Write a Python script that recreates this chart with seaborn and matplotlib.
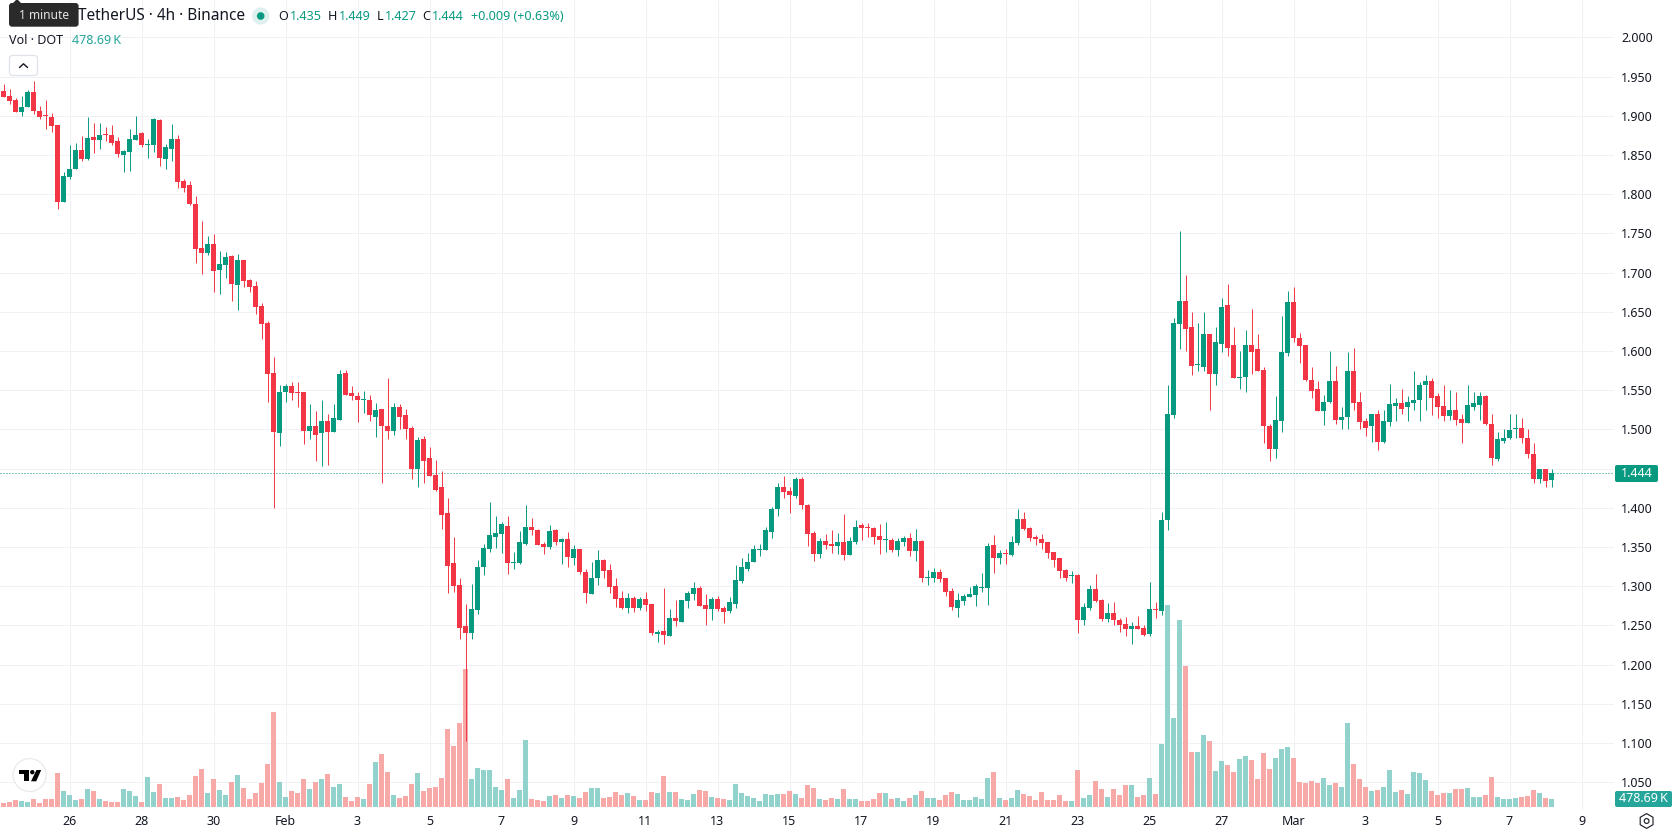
import numpy as np
import pandas as pd
import seaborn as sns
import matplotlib
matplotlib.use("Agg")
import matplotlib.pyplot as plt
from matplotlib.collections import PolyCollection
from matplotlib.patches import Circle, FancyBboxPatch, Polygon, RegularPolygon

# DOT/USDT 4h candles
opens = [
 1.931,1.925,1.920,1.905,1.911,1.930,1.906,1.901,1.898,1.888,
 1.790,1.822,1.832,1.856,1.845,1.873,1.869,1.876,1.875,1.868,
 1.850,1.854,1.869,1.878,1.863,1.862,1.894,1.845,1.857,1.870,
 1.817,1.811,1.788,1.731,1.725,1.736,1.703,1.709,1.721,1.684,
 1.716,1.690,1.683,1.657,1.636,1.572,1.495,1.547,1.555,1.547,
 1.547,1.498,1.504,1.495,1.510,1.496,1.512,1.572,1.546,1.543,
 1.537,1.538,1.516,1.526,1.504,1.498,1.528,1.518,1.502,1.450,
 1.487,1.463,1.442,1.426,1.393,1.329,1.301,1.249,1.240,1.270,
 1.324,1.347,1.363,1.366,1.377,1.330,1.329,1.354,1.376,1.372,
 1.354,1.350,1.371,1.356,1.360,1.336,1.347,1.318,1.290,1.310,
 1.333,1.320,1.300,1.285,1.272,1.285,1.272,1.283,1.277,1.239,
 1.243,1.236,1.259,1.254,1.281,1.290,1.297,1.276,1.271,1.283,
 1.272,1.268,1.277,1.306,1.322,1.331,1.346,1.346,1.369,1.398,
 1.427,1.421,1.415,1.436,1.403,1.368,1.341,1.357,1.354,1.351,
 1.356,1.340,1.356,1.378,1.375,1.374,1.364,1.359,1.359,1.346,
 1.356,1.361,1.345,1.357,1.310,1.310,1.318,1.310,1.294,1.272,
 1.281,1.286,1.289,1.298,1.297,1.352,1.336,1.342,1.340,1.355,
 1.385,1.374,1.362,1.360,1.356,1.343,1.336,1.320,1.313,1.314,
 1.257,1.272,1.296,1.282,1.258,1.266,1.257,1.252,1.245,1.249,
 1.246,1.239,1.271,1.268,1.384,1.518,1.634,1.664,1.630,1.582,
 1.580,1.621,1.570,1.609,1.658,1.607,1.566,1.567,1.607,1.602,
 1.576,1.504,1.475,1.510,1.597,1.663,1.617,1.607,1.563,1.552,
 1.523,1.535,1.561,1.512,1.516,1.575,1.535,1.510,1.504,1.519,
 1.484,1.509,1.530,1.534,1.528,1.534,1.537,1.556,1.561,1.542,
 1.530,1.517,1.524,1.513,1.508,1.529,1.531,1.543,1.507,1.462,
 1.485,1.489,1.500,1.502,1.489,1.469,1.437,1.450,1.435,
]
closes = [
 1.924,1.919,1.905,1.911,1.930,1.906,1.898,1.900,1.887,1.790,
 1.823,1.832,1.856,1.845,1.871,1.869,1.875,1.875,1.865,1.851,
 1.855,1.870,1.876,1.862,1.864,1.896,1.846,1.860,1.870,1.815,
 1.808,1.788,1.730,1.725,1.736,1.702,1.711,1.720,1.685,1.716,
 1.689,1.681,1.656,1.634,1.570,1.497,1.547,1.555,1.546,1.546,
 1.498,1.504,1.493,1.510,1.496,1.514,1.571,1.544,1.542,1.538,
 1.538,1.518,1.525,1.504,1.498,1.528,1.516,1.500,1.450,1.486,
 1.460,1.441,1.423,1.391,1.326,1.300,1.247,1.240,1.271,1.325,
 1.348,1.365,1.368,1.379,1.330,1.331,1.356,1.376,1.371,1.352,
 1.350,1.370,1.356,1.360,1.337,1.347,1.318,1.291,1.310,1.333,
 1.319,1.299,1.283,1.272,1.285,1.272,1.283,1.276,1.240,1.241,
 1.238,1.259,1.255,1.282,1.291,1.297,1.274,1.271,1.283,1.271,
 1.267,1.280,1.308,1.324,1.331,1.347,1.347,1.371,1.398,1.426,
 1.420,1.416,1.436,1.403,1.366,1.341,1.357,1.352,1.351,1.356,
 1.340,1.357,1.376,1.374,1.374,1.362,1.359,1.360,1.346,1.357,
 1.361,1.345,1.357,1.310,1.311,1.318,1.309,1.292,1.273,1.282,
 1.287,1.290,1.300,1.299,1.351,1.336,1.342,1.341,1.356,1.385,
 1.373,1.361,1.360,1.355,1.342,1.333,1.319,1.310,1.314,1.257,
 1.273,1.296,1.281,1.258,1.266,1.257,1.250,1.245,1.249,1.245,
 1.237,1.271,1.270,1.384,1.519,1.635,1.664,1.628,1.581,1.583,
 1.621,1.571,1.611,1.656,1.604,1.566,1.567,1.607,1.599,1.575,
 1.504,1.475,1.512,1.599,1.663,1.616,1.606,1.563,1.549,1.523,
 1.535,1.561,1.512,1.516,1.575,1.533,1.509,1.502,1.519,1.484,
 1.510,1.532,1.534,1.526,1.535,1.538,1.557,1.561,1.540,1.529,
 1.517,1.524,1.512,1.508,1.531,1.533,1.543,1.507,1.464,1.487,
 1.489,1.499,1.502,1.489,1.468,1.437,1.450,1.434,1.444,
]
highs = [
 1.941,1.934,1.923,1.925,1.933,1.944,1.912,1.920,1.903,1.888,
 1.828,1.862,1.865,1.874,1.898,1.891,1.891,1.885,1.888,1.873,
 1.856,1.883,1.899,1.879,1.870,1.897,1.896,1.864,1.889,1.875,
 1.819,1.817,1.797,1.766,1.746,1.749,1.727,1.726,1.722,1.723,
 1.716,1.692,1.689,1.661,1.638,1.592,1.557,1.558,1.560,1.560,
 1.547,1.532,1.523,1.537,1.520,1.532,1.576,1.576,1.555,1.547,
 1.549,1.544,1.533,1.526,1.566,1.534,1.532,1.526,1.504,1.490,
 1.491,1.478,1.461,1.447,1.412,1.362,1.310,1.277,1.303,1.333,
 1.354,1.407,1.389,1.382,1.390,1.343,1.370,1.403,1.387,1.373,
 1.356,1.378,1.373,1.361,1.369,1.352,1.347,1.322,1.331,1.346,
 1.334,1.328,1.310,1.294,1.291,1.287,1.286,1.292,1.277,1.244,
 1.297,1.271,1.282,1.282,1.294,1.305,1.300,1.290,1.286,1.288,
 1.274,1.286,1.327,1.336,1.342,1.352,1.354,1.375,1.401,1.431,
 1.440,1.426,1.439,1.439,1.405,1.370,1.361,1.366,1.371,1.368,
 1.392,1.362,1.384,1.380,1.380,1.375,1.379,1.382,1.361,1.361,
 1.364,1.368,1.373,1.359,1.320,1.323,1.322,1.310,1.297,1.291,
 1.290,1.299,1.303,1.317,1.355,1.365,1.346,1.347,1.364,1.398,
 1.394,1.375,1.365,1.366,1.356,1.343,1.336,1.322,1.319,1.315,
 1.278,1.301,1.315,1.283,1.278,1.280,1.259,1.260,1.254,1.262,
 1.250,1.305,1.280,1.394,1.556,1.642,1.753,1.697,1.649,1.635,
 1.649,1.622,1.630,1.667,1.685,1.630,1.600,1.627,1.653,1.621,
 1.579,1.507,1.542,1.644,1.676,1.682,1.623,1.607,1.579,1.561,
 1.544,1.600,1.581,1.528,1.598,1.604,1.547,1.515,1.519,1.524,
 1.524,1.558,1.540,1.552,1.542,1.575,1.560,1.569,1.565,1.546,
 1.556,1.550,1.547,1.519,1.557,1.548,1.548,1.544,1.520,1.496,
 1.501,1.519,1.519,1.515,1.501,1.482,1.450,1.450,1.449,
]
lows = [
 1.924,1.915,1.905,1.899,1.911,1.902,1.896,1.883,1.879,1.781,
 1.790,1.819,1.832,1.842,1.843,1.852,1.857,1.868,1.862,1.847,
 1.828,1.829,1.869,1.860,1.846,1.854,1.836,1.832,1.842,1.808,
 1.803,1.786,1.712,1.698,1.722,1.675,1.672,1.693,1.664,1.652,
 1.681,1.675,1.647,1.615,1.535,1.400,1.479,1.535,1.537,1.529,
 1.481,1.487,1.459,1.453,1.454,1.496,1.512,1.544,1.537,1.509,
 1.521,1.510,1.490,1.431,1.488,1.493,1.501,1.488,1.436,1.426,
 1.432,1.440,1.421,1.373,1.291,1.292,1.232,1.102,1.232,1.264,
 1.314,1.343,1.348,1.342,1.316,1.322,1.328,1.352,1.365,1.352,
 1.341,1.347,1.352,1.328,1.325,1.327,1.315,1.278,1.290,1.301,
 1.310,1.291,1.273,1.271,1.266,1.267,1.269,1.268,1.238,1.229,
 1.226,1.236,1.249,1.254,1.272,1.282,1.274,1.250,1.257,1.268,
 1.253,1.266,1.272,1.304,1.319,1.331,1.339,1.346,1.361,1.389,
 1.412,1.393,1.413,1.398,1.351,1.332,1.336,1.347,1.342,1.341,
 1.333,1.340,1.354,1.359,1.362,1.354,1.341,1.343,1.343,1.338,
 1.351,1.338,1.332,1.305,1.301,1.305,1.305,1.288,1.269,1.260,
 1.276,1.286,1.274,1.292,1.276,1.317,1.328,1.328,1.338,1.352,
 1.371,1.357,1.352,1.347,1.336,1.324,1.310,1.306,1.304,1.240,
 1.250,1.269,1.280,1.255,1.254,1.250,1.242,1.236,1.226,1.245,
 1.236,1.236,1.259,1.263,1.371,1.515,1.602,1.600,1.569,1.575,
 1.574,1.524,1.556,1.599,1.593,1.565,1.551,1.548,1.570,1.574,
 1.482,1.459,1.464,1.497,1.593,1.611,1.584,1.561,1.540,1.523,
 1.505,1.533,1.507,1.500,1.501,1.524,1.501,1.491,1.484,1.474,
 1.483,1.504,1.511,1.520,1.510,1.525,1.510,1.524,1.518,1.514,
 1.510,1.512,1.506,1.483,1.508,1.524,1.512,1.505,1.454,1.460,
 1.482,1.488,1.489,1.483,1.464,1.432,1.432,1.427,1.427,
]
# traded volume per candle, thousands of DOT
volumes = [
 240,300,420,360,300,480,240,480,480,2040,
 960,720,420,480,1080,960,480,360,300,300,
 1080,960,660,300,1800,900,1380,540,540,600,
 420,720,1860,2280,840,1680,1020,720,1500,1920,
 1140,480,840,1440,2580,5700,1500,600,960,840,
 1680,1080,1500,1680,1980,1200,1380,600,360,600,
 480,1380,2700,3180,2100,720,540,660,1380,2040,
 960,1140,1200,1740,4680,3660,5040,8280,1680,2340,
 2220,2220,1200,1020,1680,540,1020,4020,480,420,
 360,660,720,540,720,660,540,900,1140,1140,
 540,600,900,720,840,660,420,420,900,840,
 1860,900,900,480,420,780,1020,960,600,540,
 480,420,1380,840,660,540,360,780,720,780,
 780,960,780,540,1320,1140,480,420,540,480,
 1080,480,480,360,360,480,840,840,480,540,
 360,540,720,960,540,540,420,720,900,780,
 420,420,600,480,1740,2100,540,420,540,1020,
 780,660,420,900,420,420,720,360,360,2220,
 540,720,1560,1080,600,1080,720,1320,1320,600,
 720,1740,780,3780,12120,5340,11220,8460,3300,3300,
 4320,3960,2160,2760,2520,2100,2880,3060,2820,1680,
 3240,2280,2940,3480,3600,2940,1500,1440,1560,1440,
 1740,1320,1440,1200,5040,2580,1680,1200,960,1020,
 1200,2220,900,1020,780,2100,2040,1620,960,720,
 840,840,1080,1080,1140,600,600,720,1800,600,
 480,480,540,600,660,1020,840,540,478.69,
]
# time axis: candle number of each labelled day
day_bars = [11, 23, 35, 47, 59, 71, 83, 95, 107, 119, 131, 143, 155, 167, 179,
            191, 203, 215, 227, 239, 251, 263]
day_labels = ["26", "28", "30", "Feb", "3", "5", "7", "9", "11", "13", "15", "17",
              "19", "21", "23", "25", "27", "Mar", "3", "5", "7", "9"]
price_ticks = [round(1.05 + 0.05 * k, 2) for k in range(20)]
last_price = 1.444

UP, DOWN = "#089981", "#F23645"
VOL_UP, VOL_DOWN = "#92D2CC", "#F7A9A7"
GRID = "#F0F1F4"
INK = "#131722"

sns.set_theme(style="white")
plt.rcParams["font.family"] = ["Noto Sans", "DejaVu Sans"]

W, H = 1678, 835
PANE_W, PANE_H = 1614, 810
frame = pd.DataFrame({"bar": np.arange(len(opens)), "open": opens, "high": highs,
                      "low": lows, "close": closes, "volume": volumes})
frame["direction"] = np.where(frame["close"] >= frame["open"], "up", "down")

fig = plt.figure(figsize=(W / 100, H / 100), dpi=100, facecolor="white")
rect = [0, (H - PANE_H) / H, PANE_W / W, PANE_H / H]
xlim = (-3.5 / 6, (PANE_W - 3.5) / 6)

# volume pane sits underneath and also carries the grid and the time axis
ax_vol = fig.add_axes(rect)
ax_vol.set_axisbelow(True)
sns.barplot(data=frame, x="bar", y="volume", hue="direction", dodge=False,
            native_scale=True, width=5 / 6, saturation=1, legend=False,
            palette={"up": VOL_UP, "down": VOL_DOWN}, linewidth=0,
            antialiased=False, ax=ax_vol)
ax_vol.set_xlim(*xlim)
ax_vol.set_ylim(-3 * 60, (PANE_H - 3) * 60)
ax_vol.set_yticks([])
ax_vol.set_xlabel("")
ax_vol.set_ylabel("")
ax_vol.set_xticks(day_bars)
ax_vol.set_xticklabels(day_labels, fontsize=9.0, color=INK)
ax_vol.tick_params(axis="x", length=0, pad=3.4)
for label, text in zip(ax_vol.get_xticklabels(), day_labels):
    if text in ("Feb", "Mar"):
        label.set_fontweight("bold")
for bar in day_bars:
    ax_vol.axvline(bar, color=GRID, lw=0.72, zorder=0)

# price pane on top, transparent so the bars show through
ax = fig.add_axes(rect)
ax.patch.set_alpha(0)
ax.set_xlim(*xlim)
ax.set_ylim(1.5 - (PANE_H - 429.3) / 784, 1.5 + 429.3 / 784)
ax.set_xticks([])
ax.yaxis.tick_right()
ax.set_yticks(price_ticks)
ax.set_yticklabels([f"{t:.3f}" for t in price_ticks], fontsize=9.0, color=INK)
ax.tick_params(axis="y", length=0, pad=5.2)
for spine_ax in (ax, ax_vol):
    for spine in spine_ax.spines.values():
        spine.set_visible(False)

# horizontal grid has to stay behind the volume bars
for tick in price_ticks:
    y_px = 429.3 + (1.5 - tick) * 784
    ax_vol.axhline((PANE_H - y_px - 3) * 60, color=GRID, lw=0.72, zorder=0)

bars = frame["bar"].to_numpy(dtype=float)
colors = np.where(frame["direction"] == "up", UP, DOWN).tolist()
ax.vlines(bars, frame["low"].to_numpy(), frame["high"].to_numpy(), colors=colors,
          lw=0.7, zorder=3)
body_low = frame[["open", "close"]].min(axis=1).to_numpy()
body_high = np.maximum(frame[["open", "close"]].max(axis=1).to_numpy(), body_low + 0.0013)
half = 2.5 / 6
bodies = [[(b - half, lo), (b + half, lo), (b + half, hi), (b - half, hi)]
          for b, lo, hi in zip(bars, body_low, body_high)]
ax.add_collection(PolyCollection(bodies, facecolors=colors, edgecolors="none",
                                 linewidths=0, zorder=4), autolim=False)
last_line, = ax.plot([xlim[0], xlim[1]], [last_price, last_price], color=UP, lw=0.72,
                     dash_capstyle="butt", zorder=2)
last_line.set_dashes((1, 2))

# overlay in image pixels for the header, tags, logo and buttons
ov = fig.add_axes([0, 0, 1, 1], zorder=10)
ov.set_xlim(0, W)
ov.set_ylim(H, 0)
ov.axis("off")
ov.patch.set_alpha(0)


def put(x, y, s, size=12.0, color=INK, ha="left", **kw):
    ov.text(x, y, s, fontsize=size * 0.72, color=color, ha=ha, va="center", **kw)


# value tags on the price scale
ov.add_patch(FancyBboxPatch((1615, 465), 43, 17, boxstyle="round,pad=0,rounding_size=2",
                            fc=UP, ec="none"))
put(1636.5, 473.3, "1.444", 12.5, "white", ha="center")
ov.add_patch(FancyBboxPatch((1615, 791), 57, 16, boxstyle="round,pad=0,rounding_size=2",
                            fc="#26A69A", ec="none"))
put(1643.5, 799, "478.69\u2009K", 12.5, "white", ha="center")

# header line with symbol and OHLC values
put(78.5, 16, "TetherUS · 4h · Binance", 15.4)
ov.add_patch(Circle((260.7, 16), 8.6, fc="#DFF1EE", ec="none"))
ov.add_patch(Circle((260.7, 16), 3.8, fc=UP, ec="none"))
for x, s in [(278, "O"), (328, "H"), (377, "L"), (422.5, "C")]:
    put(x, 16.5, s, 12.6)
for x, s in [(290, "1.435"), (338.5, "1.449"), (384.5, "1.427"), (432, "1.444"),
             (471, "+0.009 (+0.63%)")]:
    put(x, 16.5, s, 12.6, UP)

# "1 minute" tooltip over the start of the header
ov.add_patch(FancyBboxPatch((9, 3), 69.6, 23.7, boxstyle="round,pad=0,rounding_size=3",
                            fc="#2A2A2A", ec="none"))
ov.add_patch(Polygon([(12, 4), (17, -1), (22, 4)], closed=True, fc="#2A2A2A", ec="none"))
put(43.8, 15.5, "1 minute", 12.0, "#E4E4E4", ha="center")

# volume legend and collapse button
put(9, 40.7, "Vol · DOT", 12.6)
put(71.8, 40.7, "478.69\u2009K", 12.6, "#26A69A")
ov.add_patch(FancyBboxPatch((9.5, 55.5), 28, 20, boxstyle="round,pad=0,rounding_size=3",
                            fc="white", ec="#DFE2E8", lw=0.9))
ov.plot([19.5, 23.5, 27.5], [67.5, 63.8, 67.5], color=INK, lw=1.0, solid_capstyle="round")

# logo badge
ov.add_patch(Circle((29.6, 775), 16.5, fc="white", ec="#E9EAEE", lw=0.9))
ov.add_patch(Polygon([(18.6, 770), (29, 770), (29, 781.3), (24, 781.3), (24, 774.3), (18.6, 774.3)],
                     closed=True, fc="black", ec="none"))
ov.add_patch(Circle((32.3, 772.2), 2.2, fc="black", ec="none"))
ov.add_patch(Polygon([(36.5, 770), (41.2, 770), (36.2, 781.3), (31, 781.3)],
                     closed=True, fc="black", ec="none"))

# settings icon at the scale corner
ov.add_patch(RegularPolygon((1646.6, 821), 6, radius=7.4, orientation=np.pi / 3,
                            fc="none", ec=INK, lw=0.8))
ov.add_patch(Circle((1646.6, 821), 2.4, fc="none", ec=INK, lw=0.8))

fig.savefig("out.png", dpi=100)
